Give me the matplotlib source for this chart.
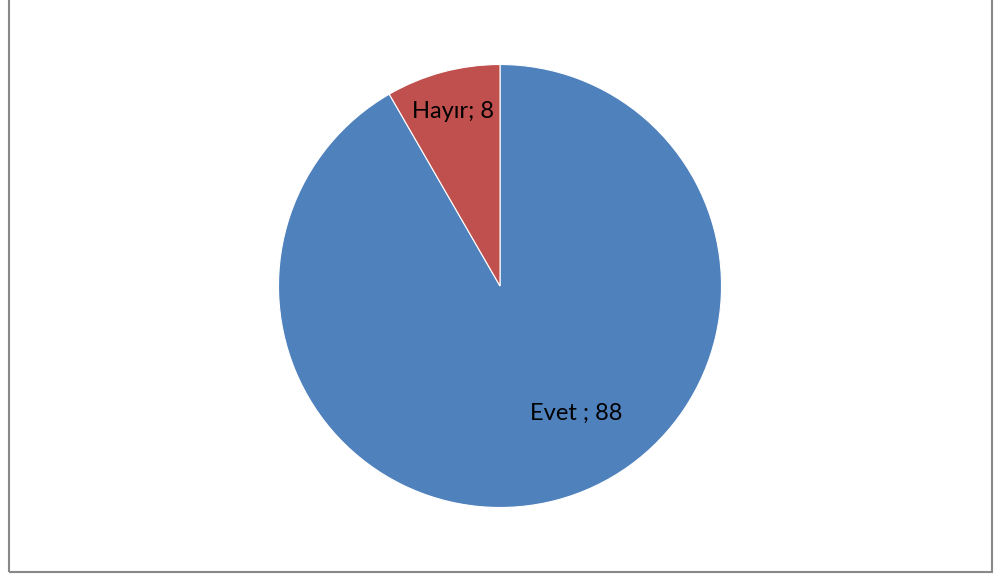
import matplotlib
matplotlib.use("Agg")
import matplotlib.pyplot as plt
from matplotlib.patches import Rectangle

labels = ["Evet", "Hayır"]
values = [88, 8]
label_texts = ["Evet ; 88", "Hayır; 8"]
colors = ["#4F81BD", "#C0504D"]

W, H = 1000, 576
fig = plt.figure(figsize=(W / 100, H / 100), dpi=100)
fig.patch.set_facecolor("white")

cx, cy, r = 500, 286, 221.5
ax = fig.add_axes([(cx - r) / W, (H - cy - r) / H, 2 * r / W, 2 * r / H])
wedges, _ = ax.pie(values, colors=colors, startangle=90, counterclock=False,
                   radius=1.0, wedgeprops=dict(edgecolor="white", linewidth=0.8))
ax.set_xlim(-1, 1)
ax.set_ylim(-1, 1)
ax.set_aspect("equal")
ax.axis("off")

# label positions (pixel coords of text centres)
label_pos = [(576, 413), (453, 111)]
for txt, (px, py) in zip(label_texts, label_pos):
    fig.text(px / W, (H - py) / H, txt, ha="center", va="center",
             fontsize=17, family=["Lato", "DejaVu Sans"], color="black")

fig.patches.append(Rectangle((8.5 / W, 4.5 / H), (991.5 - 8.5) / W, (H - 4.5 + 2) / H,
                             transform=fig.transFigure, fill=False,
                             edgecolor="#888888", linewidth=1.5))

fig.savefig("out.png", dpi=100)
